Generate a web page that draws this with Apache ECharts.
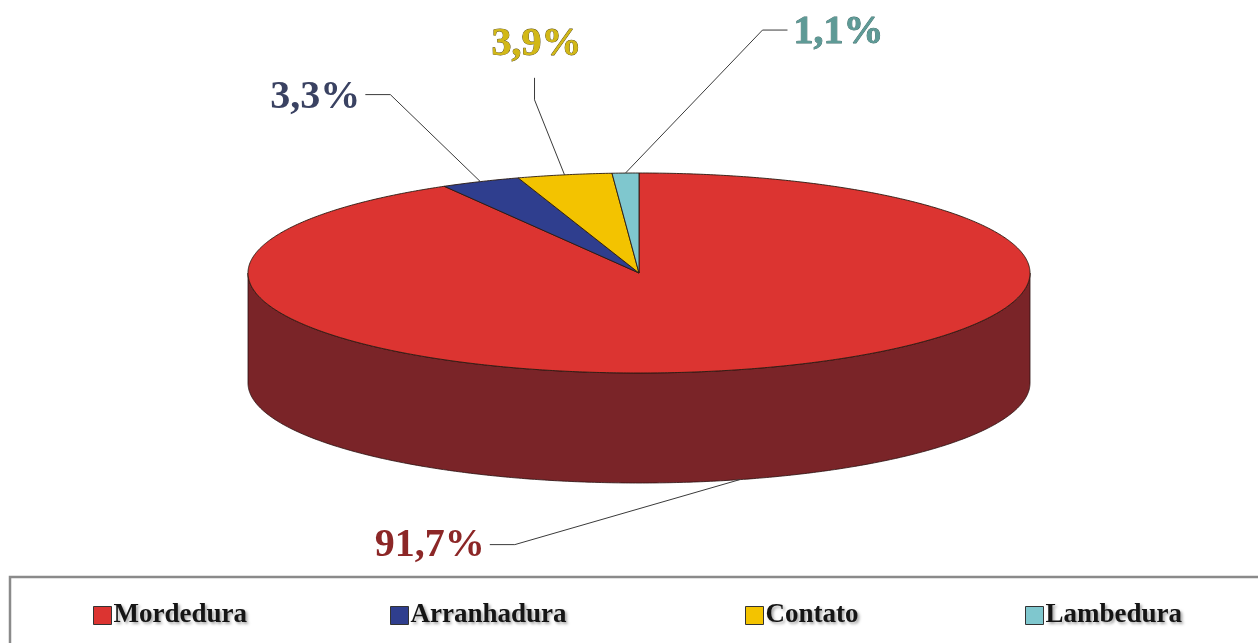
<!DOCTYPE html>
<html>
<head>
<meta charset="utf-8">
<style>
  html, body { margin: 0; padding: 0; background: #ffffff; }
  #chart { width: 1258px; height: 643px; }
</style>
<script src="https://cdn.jsdelivr.net/npm/echarts@6/dist/echarts.min.js"></script>
</head>
<body>
<div id="chart"></div>
<script>
// Share of exposure types (%)
const categories = ['Mordedura', 'Arranhadura', 'Contato', 'Lambedura'];
const shares = [91.7, 3.3, 3.9, 1.1];

// Slice colours: top face, side wall, value label
const topColors = ['#DC3431', '#2F3E8E', '#F3C300', '#7FC7CE'];
const sideColors = ['#7A2428', '#1E2A60', '#A08000', '#4F8C92'];
const labelColors = ['#8C2727', '#3A4262', '#D2B816', '#5E9A96'];

// Legend item left edges (px)
const legendLefts = [88, 385, 740, 1020];

// Ellipse geometry of the tilted pie
const PIE = { cx: 639, cy: 273, rx: 391, ry: 100, depth: 110 };

// Leader line / label offsets relative to each slice's anchor on the rim
const leaderLayout = [
  { elbow: [-225, 65], end: [-250, 65], text: [-255, 66], align: 'right' },
  { elbow: [-90, -87], end: [-115, -87], text: [-120, -84], align: 'right' },
  { elbow: [-30, -75], end: [-30, -97], text: [-28, -130], align: 'center' },
  { elbow: [137, -143], end: [162, -143], text: [168, -140], align: 'left' }
];

const total = shares.reduce((a, b) => a + b, 0);

// Point on the rim; angle in degrees clockwise from 12 o'clock
function rim(deg, drop) {
  const r = deg * Math.PI / 180;
  return [PIE.cx + PIE.rx * Math.sin(r), PIE.cy - PIE.ry * Math.cos(r) + (drop || 0)];
}

function arcPoints(a0, a1, drop) {
  const pts = [];
  const n = Math.max(2, Math.ceil(Math.abs(a1 - a0) / 0.5));
  for (let k = 0; k <= n; k++) {
    pts.push(rim(a0 + (a1 - a0) * k / n, drop));
  }
  return pts;
}

function formatShare(v) {
  return v.toFixed(1).replace('.', ',') + '%';
}

function makeSeries(i) {
  return {
    type: 'custom',
    name: categories[i],
    coordinateSystem: 'none',
    silent: true,
    animation: false,
    itemStyle: { color: topColors[i] },
    data: [shares[i]],
    renderItem: function (params, api) {
      const value = api.value(0);
      let before = 0;
      for (let j = 0; j < i; j++) before += shares[j];
      const a0 = before / total * 360;
      const a1 = (before + value) / total * 360;
      const children = [];

      // Visible side wall: front half of the rim (90°..270°)
      const s0 = Math.max(a0, 90), s1 = Math.min(a1, 270);
      if (s1 > s0) {
        const upper = arcPoints(s0, s1, 0);
        const lower = arcPoints(s0, s1, PIE.depth).reverse();
        children.push({
          type: 'polygon',
          shape: { points: upper.concat(lower) },
          style: { fill: sideColors[i], stroke: '#2a1010', lineWidth: 0.8 }
        });
      }

      // Top face wedge
      const top = [[PIE.cx, PIE.cy]].concat(arcPoints(a0, a1, 0));
      children.push({
        type: 'polygon',
        shape: { points: top },
        style: { fill: topColors[i], stroke: '#2a1a10', lineWidth: 0.9, lineJoin: 'round' }
      });

      // Anchor at the slice's mid angle; front slices anchor at the wall bottom
      const mid = (a0 + a1) / 2;
      const front = Math.cos(mid * Math.PI / 180) < 0;
      const anchor = rim(mid, front ? PIE.depth : 0);
      const L = leaderLayout[i];
      children.push({
        type: 'polyline',
        shape: {
          points: [
            anchor,
            [anchor[0] + L.elbow[0], anchor[1] + L.elbow[1]],
            [anchor[0] + L.end[0], anchor[1] + L.end[1]]
          ]
        },
        style: { stroke: '#3a3a3a', lineWidth: 1, fill: null }
      });
      children.push({
        type: 'text',
        x: anchor[0] + L.text[0],
        y: anchor[1] + L.text[1],
        style: {
          text: formatShare(value),
          fill: labelColors[i],
          font: 'bold 40px "Liberation Serif", "Times New Roman", serif',
          align: L.align,
          verticalAlign: 'middle',
          stroke: i === 2 ? '#5a4c10' : (i === 3 ? '#3f6e6b' : null),
          lineWidth: (i === 2 || i === 3) ? 0.8 : 0,
          shadowColor: 'rgba(0,0,0,0.35)',
          shadowBlur: 3,
          shadowOffsetX: 2,
          shadowOffsetY: 2
        }
      });

      return { type: 'group', children: children };
    }
  };
}

const legends = categories.map((name, i) => ({
  data: [name],
  left: legendLefts[i],
  top: 597,
  orient: 'horizontal',
  icon: 'rect',
  itemWidth: 18,
  itemHeight: 18,
  itemGap: 6,
  selectedMode: false,
  itemStyle: { borderColor: '#333', borderWidth: 1 },
  textStyle: {
    fontFamily: '"Liberation Serif", "Times New Roman", serif',
    fontWeight: 'bold',
    fontSize: 27,
    color: '#151515',
    padding: [0, 0, 0, -3],
    textShadowColor: 'rgba(0,0,0,0.35)',
    textShadowBlur: 3,
    textShadowOffsetX: 2,
    textShadowOffsetY: 2
  }
}));

const chart = echarts.init(document.getElementById('chart'), null, { renderer: 'canvas' });
chart.setOption({
  backgroundColor: '#ffffff',
  animation: false,
  graphic: [{
    type: 'rect',
    z: -1,
    shape: { x: 10, y: 577, width: 1262, height: 80 },
    style: { fill: '#ffffff', stroke: '#8a8a8a', lineWidth: 2.5 }
  }],
  legend: legends,
  series: categories.map((_, i) => makeSeries(i))
});
</script>
</body>
</html>
